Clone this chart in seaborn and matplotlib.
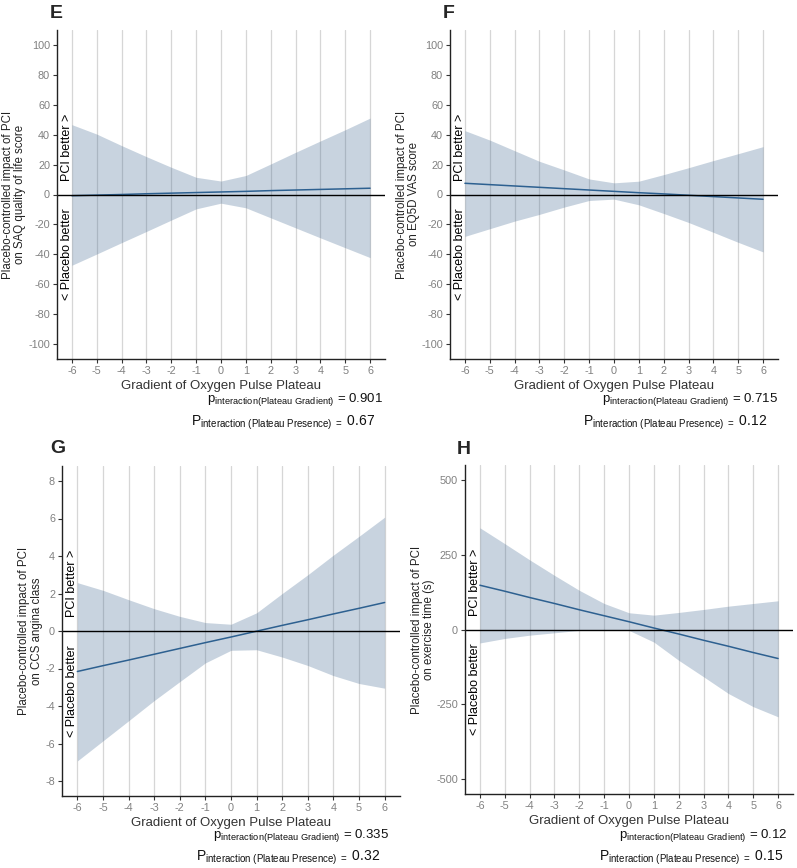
import matplotlib
matplotlib.use("Agg")
import matplotlib.pyplot as plt
import matplotlib.transforms as mtransforms
import seaborn as sns
import pandas as pd

# x positions (gradient of oxygen pulse plateau)
gradient = [-6, -5, -4, -3, -2, -1, 0, 1, 2, 3, 4, 5, 6]

# E: SAQ quality of life score
e_fit = [-0.8, -0.4, 0.0, 0.5, 0.9, 1.3, 1.7, 2.1, 2.6, 3.0, 3.4, 3.8, 4.2]
e_lower = [-47.3, -39.8, -32.2, -24.7, -17.1, -9.6, -5.8, -8.9, -15.6, -22.3, -29.0, -35.6, -42.2]
e_upper = [46.7, 40.4, 32.7, 25.3, 18.2, 11.5, 9.0, 12.7, 20.4, 28.2, 35.8, 43.3, 51.1]

# F: EQ5D VAS score
f_fit = [7.5, 6.6, 5.7, 4.8, 3.9, 3.0, 2.1, 1.2, 0.4, -0.5, -1.4, -2.3, -3.2]
f_lower = [-28.0, -22.9, -17.8, -13.3, -8.4, -4.0, -3.1, -6.9, -12.7, -18.7, -25.3, -32.0, -38.4]
f_upper = [42.7, 36.4, 29.3, 22.2, 16.4, 10.4, 7.8, 8.9, 13.3, 17.9, 22.7, 27.3, 32.0]

# G: CCS angina class
g_fit = [-2.16, -1.85, -1.55, -1.24, -0.93, -0.62, -0.32, -0.01, 0.30, 0.60, 0.91, 1.21, 1.52]
g_lower = [-6.93, -5.86, -4.79, -3.71, -2.70, -1.70, -1.03, -1.00, -1.39, -1.84, -2.38, -2.80, -3.05]
g_upper = [2.58, 2.17, 1.67, 1.19, 0.78, 0.45, 0.36, 0.97, 2.00, 3.00, 4.05, 5.05, 6.07]

# H: exercise time (s)
h_fit = [148, 128, 107, 87, 66, 46, 26, 5, -15, -36, -56, -77, -97]
h_lower = [-45, -30, -19, -11, -3, 0, -3, -42, -103, -158, -214, -258, -292]
h_upper = [340, 287, 233, 181, 131, 87, 56, 48, 57, 67, 78, 87, 96]

x_title = "Gradient of Oxygen Pulse Plateau"
y_titles = {
    "E": "Placebo-controlled impact of PCI\non SAQ quality of life score",
    "F": "Placebo-controlled impact of PCI\non EQ5D VAS score",
    "G": "Placebo-controlled impact of PCI\non CCS angina class",
    "H": "Placebo-controlled impact of PCI\non exercise time (s)",
}
p_gradient = {"E": "0.901", "F": "0.715", "G": "0.335", "H": "0.12"}
p_presence = {"E": "0.67", "F": "0.12", "G": "0.32", "H": "0.15"}

sns.set_style("white")
plt.rcParams["font.family"] = ["Liberation Sans", "DejaVu Sans"]
plt.rcParams["axes.unicode_minus"] = False
plt.rcParams["mathtext.fontset"] = "custom"
plt.rcParams["mathtext.rm"] = "Liberation Sans"
plt.rcParams["mathtext.it"] = "Liberation Sans:italic"
plt.rcParams["mathtext.bf"] = "Liberation Sans:bold"

W, H = 797, 868
fig = plt.figure(figsize=(W / 100, H / 100), dpi=100)

panels = [
    # letter, fit, lower, upper, box (l, t, r, b) px, ylim, yticks, ylabel x, letter pos, p-text pos
    ("E", e_fit, e_lower, e_upper, (57, 30, 385, 359), (-110, 110), range(-100, 101, 20),
     -0.131, (50, 18), (383, 402, 375, 426)),
    ("F", f_fit, f_lower, f_upper, (450, 30, 778, 359), (-110, 110), range(-100, 101, 20),
     -0.128, (443, 18), (778, 402, 767, 426)),
    ("G", g_fit, g_lower, g_upper, (62, 466, 400, 796), (-8.8, 8.8), range(-8, 9, 2),
     -0.092, (50, 453), (389, 838, 380, 861)),
    ("H", h_fit, h_lower, h_upper, (465, 465, 793, 794), (-550, 550), [-500, -250, 0, 250, 500],
     -0.128, (457, 454), (788, 838, 783, 861)),
]

band_color = "#4a6f96"
line_color = "#2d6090"

for letter, fit, lower, upper, box, ylim, yticks, ylab_x, let_pos, p_pos in panels:
    l, t, r, b = box
    ax = fig.add_axes([l / W, 1 - b / H, (r - l) / W, (b - t) / H])
    ax.set_axisbelow(True)
    ax.grid(axis="x", color="#d6d6d6", lw=0.9)
    ax.grid(axis="y", visible=False)

    df = pd.DataFrame({"x": gradient, "fit": fit, "lower": lower, "upper": upper})
    ax.fill_between(df["x"], df["lower"], df["upper"], color=band_color, alpha=0.3, lw=0)
    sns.lineplot(data=df, x="x", y="fit", ax=ax, color=line_color, lw=1.1)
    ax.axhline(0, color="black", lw=1)

    ax.set_xlim(-6.6, 6.6)
    ax.set_ylim(*ylim)
    ax.set_xticks(gradient)
    ax.set_yticks(list(yticks))
    sns.despine(ax=ax)
    for side in ["left", "bottom"]:
        ax.spines[side].set_color("#222222")
        ax.spines[side].set_linewidth(1.0)
    ax.tick_params(axis="both", length=3, width=0.8, color="#333333",
                   labelcolor="#808080", labelsize=7.8, pad=2, left=True, bottom=True)

    ax.set_xlabel(x_title, fontsize=9.5, color="#333333")
    ax.xaxis.set_label_coords(0.5, -27 / (b - t))
    ax.xaxis.label.set_va("center")
    ax.set_ylabel(y_titles[letter], fontsize=8.3, color="#222222", linespacing=1.1)
    ax.yaxis.set_label_coords(ylab_x, 0.5)
    ax.yaxis.label.set_va("center")

    trans = mtransforms.blended_transform_factory(ax.transAxes, ax.transData)
    ax.annotate("PCI better >", xy=(0.03, 0), xycoords=trans, xytext=(0, 10),
                textcoords="offset points", rotation=90, ha="center", va="bottom",
                fontsize=9, color="black")
    ax.annotate("< Placebo better", xy=(0.03, 0), xycoords=trans, xytext=(0, -10),
                textcoords="offset points", rotation=90, ha="center", va="top",
                fontsize=9, color="black")

    fig.text(let_pos[0] / W, 1 - let_pos[1] / H, letter, fontsize=14,
             fontweight="bold", ha="left", va="baseline")

    x1, y1, x2, y2 = p_pos
    fig.text(x1 / W, 1 - y1 / H,
             r"$\mathregular{p_{interaction(Plateau\ Gradient)}}$ = " + p_gradient[letter],
             fontsize=9.5, ha="right", va="baseline", color="#111111")
    fig.text(x2 / W, 1 - y2 / H,
             r"$\mathregular{P_{interaction\ (Plateau\ Presence)\ =}}$ " + p_presence[letter],
             fontsize=10, ha="right", va="baseline", color="#111111")

fig.savefig("out.png", dpi=100)
